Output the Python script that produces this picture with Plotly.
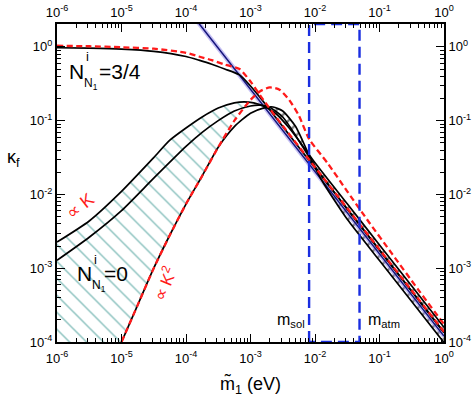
import plotly.graph_objects as go

# ---------------- data ----------------
# thermal initial abundance N = 3/4, black solid
m1_T = [1e-6, 3.16e-6, 1e-5, 3.16e-5, 1e-4, 1.58e-4, 2.51e-4, 3.98e-4, 6.76e-4, 1e-3, 1.58e-3, 3.16e-3, 6.31e-3, 1e-2, 3.16e-2, 0.1, 0.316, 1.0]
k_T = [0.973, 0.959, 0.933, 0.871, 0.741, 0.661, 0.582, 0.501, 0.417, 0.295, 0.182, 0.0832, 0.0383, 0.0229, 6.35e-3, 1.76e-3, 4.88e-4, 1.35e-4]

# thermal initial abundance, red dashed
m1_RT = [1e-6, 3.16e-6, 1e-5, 3.16e-5, 1e-4, 1.58e-4, 2.51e-4, 3.98e-4, 6.76e-4, 1e-3, 1.58e-3, 3.16e-3, 1e-2, 3.16e-2, 0.1, 0.316, 1.0]
k_RT = [1.035, 1.019, 0.989, 0.944, 0.832, 0.741, 0.661, 0.575, 0.501, 0.339, 0.191, 0.0851, 0.0234, 6.5e-3, 1.8e-3, 5.0e-4, 1.38e-4]

# zero initial abundance, black solid (upper, "propto K")
m1_A = [1e-6, 3.16e-6, 1e-5, 3.16e-5, 5.62e-5, 1e-4, 1.78e-4, 3.16e-4, 5.62e-4, 7.94e-4, 1.12e-3, 1.58e-3, 2.51e-3, 3.98e-3, 6.31e-3, 1e-2, 3.16e-2, 0.1, 0.316, 1.0]
k_A = [2.26e-3, 4.37e-3, 0.011, 0.0316, 0.0543, 0.0794, 0.112, 0.148, 0.174, 0.18, 0.174, 0.158, 0.123, 0.0794, 0.0468, 0.0269, 7.46e-3, 2.07e-3, 5.75e-4, 1.58e-4]

# zero initial abundance, black solid (second)
m1_B = [1e-6, 3.16e-6, 1e-5, 3.16e-5, 1e-4, 1.78e-4, 3.16e-4, 5.62e-4, 1e-3, 1.41e-3, 2e-3, 3.16e-3, 5.01e-3, 1e-2, 3.16e-2, 0.1, 0.316, 1.0]
k_B = [1.28e-3, 2.63e-3, 6.03e-3, 0.0166, 0.0447, 0.0692, 0.1, 0.135, 0.158, 0.162, 0.151, 0.112, 0.0631, 0.024, 6.35e-3, 1.76e-3, 4.88e-4, 1.35e-4]

# zero initial abundance, black solid ("propto K^2")
m1_C = [1e-5, 1.78e-5, 3.16e-5, 5.62e-5, 1e-4, 1.78e-4, 3.16e-4, 5.62e-4, 1e-3, 1.58e-3, 2.24e-3, 3.16e-3, 5.01e-3, 7.94e-3, 1.26e-2, 2e-2, 3.16e-2, 0.1, 0.316, 1.0]
k_C = [1e-4, 3.16e-4, 1e-3, 2.82e-3, 7.41e-3, 0.0178, 0.0437, 0.0832, 0.126, 0.148, 0.153, 0.135, 0.0832, 0.0355, 0.0158, 8.32e-3, 4.6e-3, 1.27e-3, 3.53e-4, 9.8e-5]

# zero initial abundance, red dashed
m1_D = [1e-5, 1.78e-5, 3.16e-5, 5.62e-5, 1e-4, 1.78e-4, 3.16e-4, 5.62e-4, 1e-3, 1.41e-3, 2e-3, 2.82e-3, 3.98e-3, 5.62e-3, 8.13e-3, 1.58e-2, 3.16e-2, 6.92e-2, 0.158, 0.398, 1.0]
k_D = [1e-4, 3.16e-4, 1e-3, 2.82e-3, 7.41e-3, 0.0178, 0.0437, 0.1, 0.191, 0.251, 0.282, 0.263, 0.191, 0.117, 0.0562, 0.0263, 0.011, 4.17e-3, 1.55e-3, 5.13e-4, 1.74e-4]

# strong washout power law, blue
m1_blue = [1.3e-4, 1.0]
k_blue = [2.59, 1.2e-4]

# m_sol and m_atm box
m_sol = 8.1e-3
m_atm = 4.9e-2
k_box = [1e-4, 2.04]

x_decades = [1e-6, 1e-5, 1e-4, 1e-3, 1e-2, 1e-1, 1]
x_ticktext = ["10<sup>-6</sup>", "10<sup>-5</sup>", "10<sup>-4</sup>", "10<sup>-3</sup>",
              "10<sup>-2</sup>", "10<sup>-1</sup>", "10<sup>0</sup>"]
y_decades = [1e-4, 1e-3, 1e-2, 1e-1, 1]
y_ticktext = ["10<sup>-4</sup>", "10<sup>-3</sup>", "10<sup>-2</sup>", "10<sup>-1</sup>", "10<sup>0</sup>"]

# ---------------- figure ----------------
FONT = "Liberation Sans, Arial, sans-serif"
BLACK = "#000000"
RED = "#ff1a1a"
TEAL = "#1a8580"
W, H = 474, 399
ML, MR, MT, MB = 57, 30, 24, 57

fig = go.Figure()

# teal hatched region under the zero-abundance curves
hx = [x for x in m1_A if x <= 7.94e-4]
hy = k_A[:len(hx)]
dx = [x for x in m1_D if x <= 1e-3][::-1]
dy = [k_D[m1_D.index(x)] for x in dx]
fig.add_trace(go.Scatter(
    x=hx + dx + [1e-6], y=hy + dy + [1e-4], mode="none", fill="toself",
    fillcolor="rgba(0,0,0,0)",
    fillpattern=dict(shape="\\", fgcolor=TEAL, bgcolor="rgba(0,0,0,0)", size=12, solidity=0.12),
    hoverinfo="skip", showlegend=False))

# ladder band on the strong-washout side
ux = [x for x in m1_A if x >= 1.58e-3]
uy = k_A[len(m1_A) - len(ux):]
lx = [x for x in m1_C if x >= 2.24e-3][::-1]
ly = [k_C[m1_C.index(x)] for x in lx]
fig.add_trace(go.Scatter(
    x=ux + lx, y=uy + ly, mode="none", fill="toself",
    fillcolor="rgba(0,0,0,0)",
    fillpattern=dict(shape="/", fgcolor=BLACK, bgcolor="rgba(0,0,0,0)", size=8, solidity=0.3),
    hoverinfo="skip", showlegend=False))

# blue power law (with a light halo)
fig.add_trace(go.Scatter(x=m1_blue, y=k_blue, mode="lines",
                         line=dict(color="rgba(150,140,235,0.55)", width=4.5),
                         hoverinfo="skip", showlegend=False))
fig.add_trace(go.Scatter(x=m1_blue, y=k_blue, mode="lines",
                         line=dict(color="#14147a", width=1.5), showlegend=False))

for xs, ys in [(m1_T, k_T), (m1_A, k_A), (m1_B, k_B), (m1_C, k_C)]:
    fig.add_trace(go.Scatter(x=xs, y=ys, mode="lines",
                             line=dict(color=BLACK, width=1.7, shape="spline", smoothing=0.6),
                             showlegend=False))
for xs, ys in [(m1_RT, k_RT), (m1_D, k_D)]:
    fig.add_trace(go.Scatter(x=xs, y=ys, mode="lines",
                             line=dict(color=RED, width=2.3, dash="6px,3.5px", shape="spline", smoothing=0.6),
                             showlegend=False))

# m_sol / m_atm box
fig.add_trace(go.Scatter(x=[m_sol, m_sol, m_atm, m_atm, m_sol],
                         y=[k_box[0], k_box[1], k_box[1], k_box[0], k_box[0]],
                         mode="lines", line=dict(color="#1a2ee0", width=2.4, dash="11px,6px"),
                         showlegend=False))

x_minor = [m * 10 ** e for e in range(-6, 0) for m in range(2, 10)]
y_minor = [m * 10 ** e for e in range(-4, 1) for m in range(2, 10)]

axis_common = dict(type="log", showgrid=False, zeroline=False, showline=True, linecolor=BLACK, linewidth=2,
                   ticks="inside", ticklen=8, tickwidth=1.3, tickcolor=BLACK, automargin=False,
                   tickfont=dict(family=FONT, size=13, color=BLACK))
minor_x = dict(tickvals=x_minor, ticks="inside", ticklen=4, tickwidth=1, tickcolor=BLACK, showgrid=False)
minor_y = dict(tickvals=y_minor, ticks="inside", ticklen=4, tickwidth=1, tickcolor=BLACK, showgrid=False)

fig.update_layout(
    width=W, height=H,
    margin=dict(l=ML, r=MR, t=MT, b=MB, autoexpand=False),
    paper_bgcolor="white", plot_bgcolor="white",
    xaxis=dict(range=[-6, 0], tickvals=x_decades, ticktext=x_ticktext, mirror=True, minor=minor_x,
               ticklabelstandoff=3, **axis_common),
    yaxis=dict(range=[-4, 0.31], tickvals=y_decades, ticktext=y_ticktext, mirror=True, minor=minor_y, **axis_common),
    xaxis2=dict(range=[-6, 0], overlaying="x", side="top", tickvals=x_decades, ticktext=x_ticktext,
                minor=minor_x, anchor="y", **axis_common),
    yaxis2=dict(range=[-4, 0.31], overlaying="y", side="right", tickvals=y_decades, ticktext=y_ticktext,
                minor=minor_y, anchor="x", **axis_common),
)
# invisible trace to activate the secondary axes
fig.add_trace(go.Scatter(x=[1e-6], y=[1e-4], xaxis="x2", yaxis="y2", mode="markers",
                         marker=dict(opacity=0), hoverinfo="skip", showlegend=False))

PW = W - ML - MR
PH = H - MT - MB


def ann(text, px, py, size, color=BLACK, xanchor="center", angle=0):
    fig.add_annotation(text=text, x=(px - ML) / PW, y=(H - MB - py) / PH, xref="paper", yref="paper",
                       xanchor=xanchor, yanchor="middle", showarrow=False, textangle=angle,
                       font=dict(family=FONT, size=size, color=color))


# labels N^i_{N1}=3/4
ann("N", 67, 71, 21, xanchor="left")
ann("i", 84, 57, 13, xanchor="left")
ann("N<sub>1</sub>", 82, 84, 12, xanchor="left")
ann("=3/4", 97, 72, 21, xanchor="left")
# labels N^i_{N1}=0
ann("N", 75, 273, 21, xanchor="left")
ann("i", 92, 259, 13, xanchor="left")
ann("N<sub>1</sub>", 90, 286, 12, xanchor="left")
ann("=0", 102, 273, 21, xanchor="left")
# proportional labels
ann("\u221d K", 80, 206, 18, color=RED, angle=-38)
ann("\u221d K<sup>2</sup>", 164, 284, 17, color=RED, angle=-68)
# m_sol, m_atm
ann("m<sub>sol</sub>", 307, 320, 16, xanchor="right")
ann("m<sub>atm</sub>", 366, 320, 16, xanchor="left")
# axis titles
ann("\u03ba<sub>f</sub>", 13, 158, 18)
ann("m\u0303<sub>1</sub> (eV)", 250, 385, 18)

fig.write_html("out.html", config={"displayModeBar": False},
               post_script="document.body.style.margin='0px';document.body.style.overflow='hidden';")
